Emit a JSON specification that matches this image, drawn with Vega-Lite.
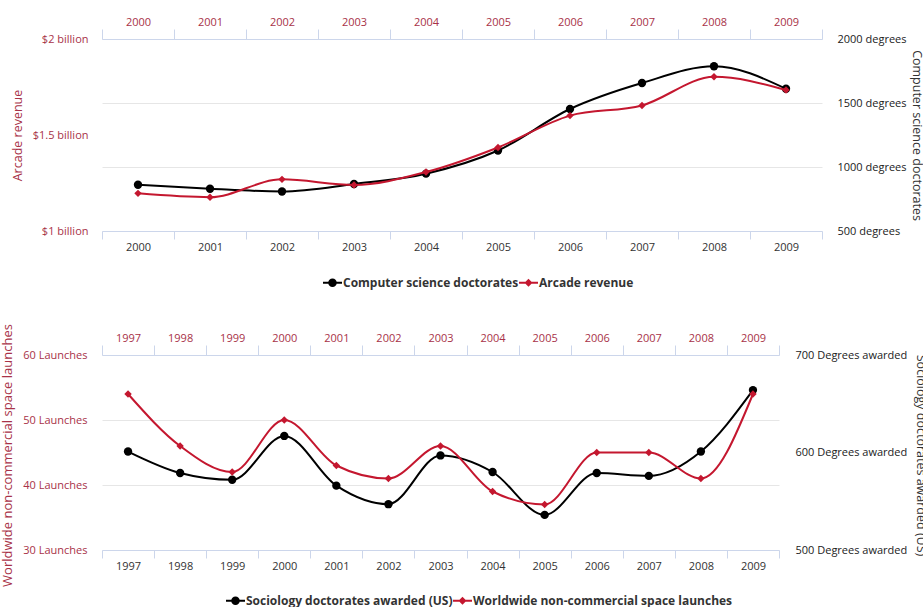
{
  "$schema": "https://vega.github.io/schema/vega-lite/v6.json",
  "background": "white",
  "padding": {"left": 0, "top": 16, "right": 0, "bottom": 0},
  "autosize": {"type": "pad"},
  "config": {
    "font": "Open Sans",
    "view": {"stroke": null},
    "axis": {"labelFont": "Open Sans", "titleFont": "Open Sans", "titleFontWeight": "normal"},
    "legend": {"labelFont": "Open Sans", "labelLimit": 500}
  },
  "datasets": {
    "top": [
      {"year": "2000", "cs": 861, "arcade": 1.196},
      {"year": "2001", "cs": 830, "arcade": 1.176},
      {"year": "2002", "cs": 809, "arcade": 1.269},
      {"year": "2003", "cs": 867, "arcade": 1.240},
      {"year": "2004", "cs": 948, "arcade": 1.307},
      {"year": "2005", "cs": 1129, "arcade": 1.435},
      {"year": "2006", "cs": 1453, "arcade": 1.601},
      {"year": "2007", "cs": 1656, "arcade": 1.654},
      {"year": "2008", "cs": 1787, "arcade": 1.803},
      {"year": "2009", "cs": 1611, "arcade": 1.734}
    ],
    "bottom": [
      {"year": "1997", "soc": 601, "launch": 54},
      {"year": "1998", "soc": 579, "launch": 46},
      {"year": "1999", "soc": 572, "launch": 42},
      {"year": "2000", "soc": 617, "launch": 50},
      {"year": "2001", "soc": 566, "launch": 43},
      {"year": "2002", "soc": 547, "launch": 41},
      {"year": "2003", "soc": 597, "launch": 46},
      {"year": "2004", "soc": 580, "launch": 39},
      {"year": "2005", "soc": 536, "launch": 37},
      {"year": "2006", "soc": 579, "launch": 45},
      {"year": "2007", "soc": 576, "launch": 45},
      {"year": "2008", "soc": 601, "launch": 41},
      {"year": "2009", "soc": 664, "launch": 54}
    ],
    "legTop": [
      {"series": "Computer science doctorates"},
      {"series": "Arcade revenue"}
    ],
    "legBot": [
      {"series": "Sociology doctorates awarded (US)"},
      {"series": "Worldwide non-commercial space launches"}
    ]
  },
  "vconcat": [
    {
      "width": 720,
      "height": 192,
      "data": {"name": "top"},
      "layer": [
        {
          "encoding": {
            "x": {"field": "year", "type": "ordinal",
              "scale": {"type": "band", "paddingInner": 0, "paddingOuter": 0},
              "axis": {"orient": "bottom", "title": null, "labelAngle": 0, "tickBand": "extent", "tickSize": 8, "labelPadding": 2,
                "labelColor": "#333333", "labelFontSize": 11, "domainColor": "#ccd6eb", "tickColor": "#ccd6eb", "grid": false}},
            "y": {"field": "cs", "type": "quantitative",
              "scale": {"domain": [500, 2000], "nice": false, "zero": false},
              "axis": {"orient": "right", "values": [500, 1000, 1500, 2000], "labelExpr": "datum.value + ' degrees'",
                "labelColor": "#222222", "labelFontSize": 11, "labelPadding": 15, "ticks": false, "domain": false,
                "grid": true, "gridColor": "#e6e6e6", "labelFlush": false, "labelOverlap": false,
                "title": "Computer science doctorates", "titleColor": "#333333", "titleFontSize": 12.5,
                "titleAngle": 90, "titleX": 94, "titleY": 96, "titleAlign": "center", "titleBaseline": "middle"}}
          },
          "layer": [
            {"mark": {"type": "line", "color": "#000000", "strokeWidth": 2, "interpolate": "monotone"}},
            {"mark": {"type": "point", "shape": "circle", "filled": true, "color": "#000000", "size": 70, "opacity": 1}}
          ]
        },
        {
          "encoding": {
            "x": {"field": "year", "type": "ordinal",
              "scale": {"type": "band", "paddingInner": 0, "paddingOuter": 0},
              "axis": {"orient": "top", "title": null, "labelAngle": 0, "tickBand": "extent", "tickSize": 10, "labelPadding": 2,
                "labelColor": "#a83248", "labelFontSize": 11, "domainColor": "#ccd6eb", "tickColor": "#ccd6eb", "grid": false}},
            "y": {"field": "arcade", "type": "quantitative",
              "scale": {"domain": [1, 2], "nice": false, "zero": false},
              "axis": {"orient": "left", "values": [1, 1.5, 2], "labelExpr": "'$' + datum.value + ' billion'",
                "labelColor": "#a83248", "labelFontSize": 11, "labelPadding": 14, "ticks": false, "domain": false,
                "grid": false, "labelFlush": false, "labelOverlap": false,
                "title": "Arcade revenue", "titleColor": "#a83248", "titleFontSize": 12.5,
                "titleAngle": -90, "titleX": -85, "titleY": 96, "titleAlign": "center", "titleBaseline": "middle"}}
          },
          "layer": [
            {"mark": {"type": "line", "color": "#c4172f", "strokeWidth": 2, "interpolate": "monotone"}},
            {"mark": {"type": "point", "shape": "diamond", "filled": true, "color": "#c4172f", "size": 55, "opacity": 1}}
          ]
        },
        {
          "data": {"name": "legTop"},
          "mark": {"type": "point", "filled": true, "size": 0},
          "encoding": {
            "color": {"field": "series", "type": "nominal",
              "scale": {"domain": ["Computer science doctorates", "Arcade revenue"], "range": ["#000000", "#c4172f"]},
              "legend": {"title": null, "orient": "none", "legendX": 221, "legendY": 234, "direction": "horizontal", "columns": 2,
                "symbolSize": 361, "symbolStrokeWidth": 0, "symbolOpacity": 1, "labelFontSize": 12, "labelFontWeight": "bold",
                "labelColor": "#333333", "labelOffset": 1, "columnPadding": -2, "padding": 0, "labelLimit": 500}},
            "shape": {"field": "series", "type": "nominal",
              "scale": {"domain": ["Computer science doctorates", "Arcade revenue"],
                "range": ["M-1,-0.1H1V0.1H-1Z M0.45,0A0.45,0.45 0 1,1 -0.45,0A0.45,0.45 0 1,1 0.45,0Z", "M-1,-0.1H1V0.1H-1Z M0,-0.42L0.42,0L0,0.42L-0.42,0Z"]},
              "legend": {"title": null, "orient": "none", "legendX": 221, "legendY": 234, "direction": "horizontal", "columns": 2,
                "symbolSize": 361, "symbolStrokeWidth": 0, "symbolOpacity": 1, "labelFontSize": 12, "labelFontWeight": "bold",
                "labelColor": "#333333", "labelOffset": 1, "columnPadding": -2, "padding": 0, "labelLimit": 500}}
          }
        }
      ],
      "resolve": {"scale": {"y": "independent"}, "axis": {"x": "independent", "y": "independent"}}
    },
    {
      "width": 677,
      "height": 195,
      "data": {"name": "bottom"},
      "layer": [
        {
          "encoding": {
            "x": {"field": "year", "type": "ordinal",
              "scale": {"type": "band", "paddingInner": 0, "paddingOuter": 0},
              "axis": {"orient": "bottom", "title": null, "labelAngle": 0, "tickBand": "extent", "tickSize": 8, "labelPadding": 2,
                "labelColor": "#333333", "labelFontSize": 11, "domainColor": "#ccd6eb", "tickColor": "#ccd6eb", "grid": false}},
            "y": {"field": "soc", "type": "quantitative",
              "scale": {"domain": [500, 700], "nice": false, "zero": false},
              "axis": {"orient": "right", "values": [500, 600, 700], "labelExpr": "datum.value + ' Degrees awarded'",
                "labelColor": "#222222", "labelFontSize": 11, "labelPadding": 16, "ticks": false, "domain": false,
                "grid": false, "labelFlush": false, "labelOverlap": false,
                "title": "Sociology doctorates awarded (US)", "titleColor": "#333333", "titleFontSize": 12.5,
                "titleAngle": 90, "titleX": 141, "titleY": 100, "titleAlign": "center", "titleBaseline": "middle"}}
          },
          "layer": [
            {"mark": {"type": "line", "color": "#000000", "strokeWidth": 2, "interpolate": "monotone"}},
            {"mark": {"type": "point", "shape": "circle", "filled": true, "color": "#000000", "size": 70, "opacity": 1}}
          ]
        },
        {
          "encoding": {
            "x": {"field": "year", "type": "ordinal",
              "scale": {"type": "band", "paddingInner": 0, "paddingOuter": 0},
              "axis": {"orient": "top", "title": null, "labelAngle": 0, "tickBand": "extent", "tickSize": 10, "labelPadding": 2,
                "labelColor": "#a83248", "labelFontSize": 11, "domainColor": "#ccd6eb", "tickColor": "#ccd6eb", "grid": false}},
            "y": {"field": "launch", "type": "quantitative",
              "scale": {"domain": [30, 60], "nice": false, "zero": false},
              "axis": {"orient": "left", "values": [30, 40, 50, 60], "labelExpr": "datum.value + ' Launches'",
                "labelColor": "#a83248", "labelFontSize": 11, "labelPadding": 15, "ticks": false, "domain": false,
                "grid": true, "gridColor": "#e6e6e6", "labelFlush": false, "labelOverlap": false,
                "title": "Worldwide non-commercial space launches", "titleColor": "#a83248", "titleFontSize": 13,
                "titleAngle": -90, "titleX": -95, "titleY": 100, "titleAlign": "center", "titleBaseline": "middle"}}
          },
          "layer": [
            {"mark": {"type": "line", "color": "#c4172f", "strokeWidth": 2, "interpolate": "monotone"}},
            {"mark": {"type": "point", "shape": "diamond", "filled": true, "color": "#c4172f", "size": 55, "opacity": 1}}
          ]
        },
        {
          "data": {"name": "legBot"},
          "mark": {"type": "point", "filled": true, "size": 0},
          "encoding": {
            "color": {"field": "series", "type": "nominal",
              "scale": {"domain": ["Sociology doctorates awarded (US)", "Worldwide non-commercial space launches"], "range": ["#000000", "#c4172f"]},
              "legend": {"title": null, "orient": "none", "legendX": 124, "legendY": 236, "direction": "horizontal", "columns": 2,
                "symbolSize": 361, "symbolStrokeWidth": 0, "symbolOpacity": 1, "labelFontSize": 12, "labelFontWeight": "bold",
                "labelColor": "#333333", "labelOffset": 1, "columnPadding": -2, "padding": 0, "labelLimit": 500}},
            "shape": {"field": "series", "type": "nominal",
              "scale": {"domain": ["Sociology doctorates awarded (US)", "Worldwide non-commercial space launches"],
                "range": ["M-1,-0.1H1V0.1H-1Z M0.45,0A0.45,0.45 0 1,1 -0.45,0A0.45,0.45 0 1,1 0.45,0Z", "M-1,-0.1H1V0.1H-1Z M0,-0.42L0.42,0L0,0.42L-0.42,0Z"]},
              "legend": {"title": null, "orient": "none", "legendX": 124, "legendY": 236, "direction": "horizontal", "columns": 2,
                "symbolSize": 361, "symbolStrokeWidth": 0, "symbolOpacity": 1, "labelFontSize": 12, "labelFontWeight": "bold",
                "labelColor": "#333333", "labelOffset": 1, "columnPadding": -2, "padding": 0, "labelLimit": 500}}
          }
        }
      ],
      "resolve": {"scale": {"y": "independent"}, "axis": {"x": "independent", "y": "independent"}}
    }
  ],
  "spacing": 124,
  "bounds": "flush",
  "resolve": {"scale": {"color": "independent", "shape": "independent"}, "legend": {"color": "independent", "shape": "independent"}}
}
